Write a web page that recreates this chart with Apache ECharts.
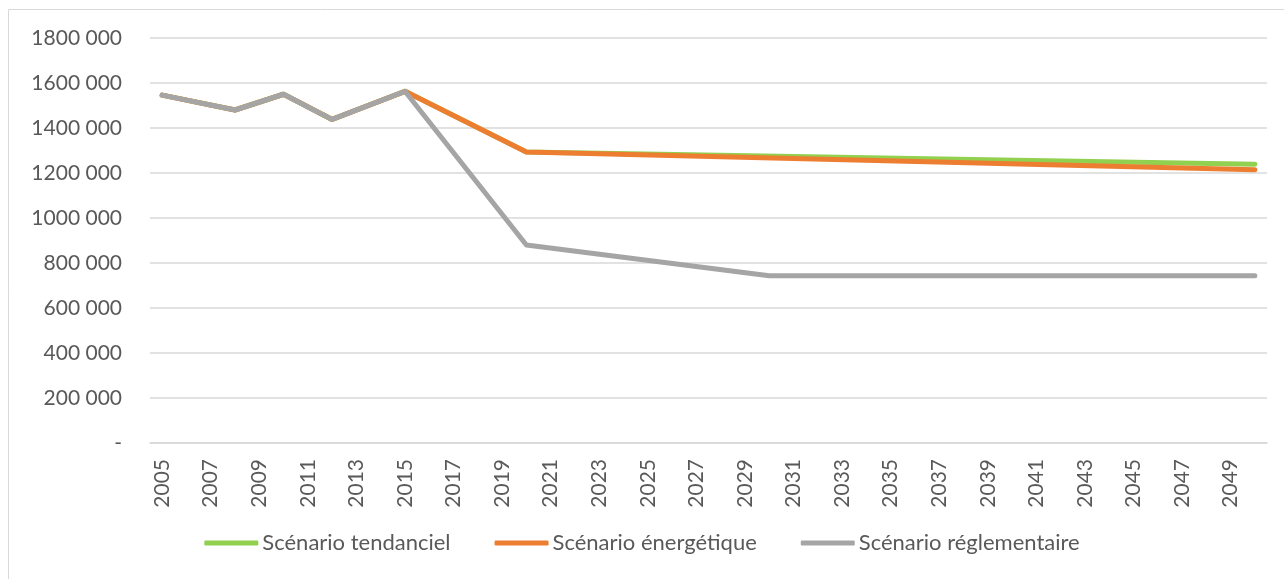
<!DOCTYPE html>
<html>
<head>
<meta charset="utf-8">
<script src="https://cdn.jsdelivr.net/npm/echarts@6/dist/echarts.min.js"></script>
<style>
  html, body { margin: 0; padding: 0; background: #fff; }
  #chart { width: 1284px; height: 579px; }
</style>
</head>
<body>
<div id="chart"></div>
<script>
// Years on the category axis
const years = [];
for (let y = 2005; y <= 2050; y++) years.push(String(y));

// Known values per year (null = no value, line is drawn straight across)
const tendancielPoints = {
  2005: 1546000, 2008: 1480000, 2010: 1550000, 2012: 1438000, 2015: 1563000,
  2020: 1293000, 2050: 1239000
};
const energetiquePoints = {
  2005: 1546000, 2008: 1480000, 2010: 1550000, 2012: 1438000, 2015: 1563000,
  2020: 1293000, 2050: 1214000
};
const reglementairePoints = {
  2005: 1546000, 2008: 1480000, 2010: 1550000, 2012: 1438000, 2015: 1563000,
  2020: 880000, 2030: 743000, 2050: 743000
};

const seriesNames = ['Scénario tendanciel', 'Scénario énergétique', 'Scénario réglementaire'];
const seriesColors = ['#92D050', '#ED7D31', '#A5A5A5'];

function toSeries(points) {
  return years.map(y => (points[y] !== undefined ? points[y] : null));
}

const seriesData = [tendancielPoints, energetiquePoints, reglementairePoints].map(toSeries);

const FONT = 'Lato';
const TEXT = '#595959';

function fmtValue(v) {
  if (v === 0) return '-';
  const thousands = Math.floor(v / 1000);
  const rest = String(v % 1000).padStart(3, '0');
  return thousands + ' ' + rest;
}

const chart = echarts.init(document.getElementById('chart'), null, { renderer: 'canvas' });

chart.setOption({
  animation: false,
  backgroundColor: '#ffffff',
  textStyle: { fontFamily: FONT },
  graphic: [{
    type: 'rect',
    shape: { x: 8.5, y: 9.5, width: 1290, height: 600 },
    style: { fill: 'none', stroke: '#D9D9D9', lineWidth: 1 },
    silent: true,
    z: -1
  }],
  grid: { left: 150, right: 17, top: 38, bottom: 136, containLabel: false },
  legend: {
    bottom: 20,
    left: 'center',
    data: seriesNames,
    icon: 'roundRect',
    itemWidth: 54,
    itemHeight: 5,
    itemGap: 44,
    textStyle: { fontFamily: FONT, fontSize: 22, color: TEXT, padding: [0, 0, 0, -1] }
  },
  xAxis: {
    type: 'category',
    data: years,
    boundaryGap: true,
    axisLine: { show: true, lineStyle: { color: '#D9D9D9', width: 1.5 } },
    axisTick: { show: false },
    axisLabel: {
      interval: 1,
      rotate: 90,
      margin: 16,
      fontFamily: FONT,
      fontSize: 21,
      color: TEXT
    },
    splitLine: { show: false }
  },
  yAxis: {
    type: 'value',
    min: 0,
    max: 1800000,
    interval: 200000,
    axisLine: { show: false },
    axisTick: { show: false },
    axisLabel: {
      margin: 28,
      fontFamily: FONT,
      fontSize: 21,
      color: TEXT,
      formatter: fmtValue
    },
    splitLine: { lineStyle: { color: '#D9D9D9', width: 1.5 } }
  },
  series: seriesNames.map((name, i) => ({
    name,
    type: 'line',
    data: seriesData[i],
    connectNulls: true,
    symbol: 'none',
    showSymbol: false,
    color: seriesColors[i],
    lineStyle: { color: seriesColors[i], width: 5, cap: 'round', join: 'round' },
    z: 2 + i
  }))
});
</script>
</body>
</html>
